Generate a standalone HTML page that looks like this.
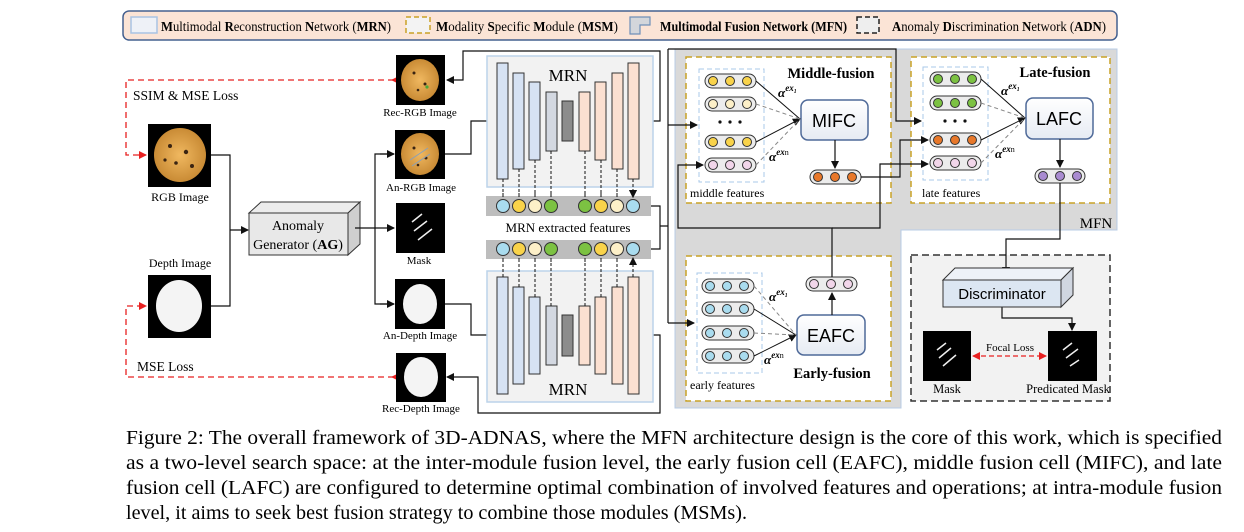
<!DOCTYPE html>
<html><head><meta charset="utf-8"><style>
body{margin:0;background:#fff;}
svg{display:block;font-family:"Liberation Serif",serif;}
</style></head><body>
<svg width="1244" height="532" viewBox="0 0 1244 532" xmlns="http://www.w3.org/2000/svg">
<defs>
<marker id="a" markerWidth="8" markerHeight="8" refX="7" refY="4" orient="auto" markerUnits="userSpaceOnUse"><path d="M0,0 L8,4 L0,8 Z" fill="#111"/></marker>
<marker id="r" markerWidth="8" markerHeight="8" refX="7" refY="4" orient="auto" markerUnits="userSpaceOnUse"><path d="M0,0 L8,4 L0,8 Z" fill="#e82020"/></marker>
<marker id="rs" markerWidth="8" markerHeight="8" refX="1" refY="4" orient="auto" markerUnits="userSpaceOnUse"><path d="M8,0 L0,4 L8,8 Z" fill="#e82020"/></marker>
<linearGradient id="g" x1="0" y1="0" x2="0" y2="1"><stop offset="0" stop-color="#fff"/><stop offset="1" stop-color="#e6ebf3"/></linearGradient>
<radialGradient id="ck"><stop offset="0" stop-color="#f0b860"/><stop offset="1" stop-color="#c98b35"/></radialGradient>
</defs>

<!-- legend -->
<rect x="123" y="11" width="994" height="29" rx="6" fill="#fbe4d6" stroke="#44608f" stroke-width="1.5"/>
<rect x="131" y="17" width="26" height="16" fill="#eef1f7" stroke="#a9c3e3" stroke-width="1.5"/>
<text x="161" y="31" font-size="13.5" textLength="230" lengthAdjust="spacingAndGlyphs"><tspan font-weight="bold">M</tspan>ultimodal <tspan font-weight="bold">R</tspan>econstruction <tspan font-weight="bold">N</tspan>etwork (<tspan font-weight="bold">MRN</tspan>)</text>
<rect x="406" y="17" width="24" height="16" fill="#f3f3f3" stroke="#c9a227" stroke-width="1.5" stroke-dasharray="5,3"/>
<text x="436" y="31" font-size="13.5" textLength="182" lengthAdjust="spacingAndGlyphs"><tspan font-weight="bold">M</tspan>odality <tspan font-weight="bold">S</tspan>pecific  <tspan font-weight="bold">M</tspan>odule (<tspan font-weight="bold">MSM</tspan>)</text>
<path d="M630,17 H650 V25 H640 V34 H630 Z" fill="#d3d6db" stroke="#6f8fb8" stroke-width="1.2"/>
<text x="660" y="31" font-size="13.5" textLength="187" lengthAdjust="spacingAndGlyphs" font-weight="bold">Multimodal Fusion Network (MFN)</text>
<rect x="857" y="17" width="22" height="16" fill="#eeeeee" stroke="#222" stroke-width="1.5" stroke-dasharray="5,3"/>
<text x="892" y="31" font-size="13.5" textLength="214" lengthAdjust="spacingAndGlyphs"><tspan font-weight="bold">A</tspan>nomaly <tspan font-weight="bold">D</tspan>iscrimination <tspan font-weight="bold">N</tspan>etwork (<tspan font-weight="bold">ADN</tspan>)</text>

<!-- MFN gray region -->
<path d="M675,49 H1117 V230 H901 V408 H675 Z" fill="#d9d9d9" stroke="#b8cce6" stroke-width="1"/>
<text x="1096" y="228" font-size="15" text-anchor="middle">MFN</text>

<!-- left images -->
<rect x="148" y="124" width="63" height="63" fill="#000"/>
<ellipse cx="180" cy="155" rx="26" ry="27" fill="url(#ck)"/>
<g fill="#3a2412"><circle cx="170" cy="146" r="2"/><circle cx="186" cy="152" r="2.2"/><circle cx="176" cy="163" r="1.8"/><circle cx="192" cy="166" r="2"/><circle cx="165" cy="160" r="1.6"/></g>
<text x="180" y="201" font-size="12" text-anchor="middle">RGB Image</text>
<text x="180" y="267" font-size="12" text-anchor="middle">Depth Image</text>
<rect x="148" y="275" width="63" height="63" fill="#000"/>
<ellipse cx="179" cy="306" rx="23" ry="26" fill="#f4f4f4"/>
<text x="133" y="100" font-size="13.5">SSIM &amp; MSE Loss</text>
<text x="137" y="371" font-size="13.5">MSE Loss</text>
<path d="M394,80 H126 V155 H146" fill="none" stroke="#e82020" stroke-width="1.3" stroke-dasharray="6,4" marker-end="url(#r)"/>
<path d="M394,377 H126 V306 H146" fill="none" stroke="#e82020" stroke-width="1.3" stroke-dasharray="6,4" marker-end="url(#r)"/>
<path d="M394,80 H392" stroke="#e82020" marker-end="url(#r)"/>
<path d="M394,377 H392" stroke="#e82020" marker-end="url(#r)"/>
<path d="M211,155 H230 V306 H211" fill="none" stroke="#111" stroke-width="1.2"/>
<path d="M230,230 H248" fill="none" stroke="#111" stroke-width="1.2" marker-end="url(#a)"/>

<!-- AG -->
<path d="M249,213 L261,202 H360 L348,213 Z" fill="#ececec" stroke="#333"/>
<path d="M348,213 L360,202 V244 L348,255 Z" fill="#cfcfcf" stroke="#333"/>
<rect x="249" y="213" width="99" height="42" fill="#e8e8e8" stroke="#333"/>
<text x="298" y="230" font-size="14" text-anchor="middle">Anomaly</text>
<text x="298" y="249" font-size="14" text-anchor="middle">Generator (<tspan font-weight="bold">AG</tspan>)</text>
<path d="M355,228 H394" fill="none" stroke="#111" stroke-width="1.2" marker-end="url(#a)"/>
<path d="M394,154 H375 V304 H394" fill="none" stroke="#111" stroke-width="1.2"/>
<path d="M380,154 H394" stroke="#111" stroke-width="1.2" marker-end="url(#a)"/>
<path d="M380,304 H394" stroke="#111" stroke-width="1.2" marker-end="url(#a)"/>

<!-- middle images -->
<g>
<rect x="396" y="55" width="49" height="50" fill="#000"/><ellipse cx="420" cy="80" rx="19" ry="21" fill="url(#ck)"/>
<g fill="#3a2412"><circle cx="414" cy="73" r="1.5"/><circle cx="425" cy="84" r="1.5"/><circle cx="418" cy="90" r="1.3"/></g><circle cx="427" cy="87" r="1.6" fill="#4aa83a"/>
<text x="420" y="116" font-size="11" text-anchor="middle">Rec-RGB Image</text>
<rect x="395" y="130" width="50" height="49" fill="#000"/><ellipse cx="420" cy="154" rx="19" ry="21" fill="url(#ck)"/>
<g fill="#3a2412"><circle cx="414" cy="148" r="1.5"/><circle cx="426" cy="158" r="1.5"/><circle cx="418" cy="165" r="1.3"/></g>
<path d="M410,160 L428,148 M412,166 L430,154" stroke="#8aa0b8" stroke-width="1"/>
<text x="421" y="191" font-size="11" text-anchor="middle">An-RGB Image</text>
<rect x="396" y="203" width="49" height="50" fill="#000"/>
<path d="M412,222 L422,214 M414,231 L427,221 M418,240 L432,229" stroke="#eee" stroke-width="1.5"/>
<text x="419" y="264" font-size="11" text-anchor="middle">Mask</text>
<rect x="395" y="279" width="50" height="50" fill="#000"/><ellipse cx="420" cy="304" rx="17" ry="20" fill="#f4f4f4"/>
<text x="420" y="339" font-size="11" text-anchor="middle">An-Depth Image</text>
<rect x="396" y="353" width="50" height="49" fill="#000"/><ellipse cx="421" cy="377" rx="17" ry="20" fill="#f4f4f4"/>
<text x="421" y="412" font-size="11" text-anchor="middle">Rec-Depth Image</text>
</g>

<path d="M445,154 H471 V121 H495" fill="none" stroke="#111" stroke-width="1.2" marker-end="url(#a)"/>
<path d="M445,304 H471 V335 H495" fill="none" stroke="#111" stroke-width="1.2" marker-end="url(#a)"/>
<path d="M638,121 H660 V51 H463 V80 H447" fill="none" stroke="#111" stroke-width="1.2" marker-end="url(#a)"/>
<path d="M638,335 H660 V413 H478 V377 H447" fill="none" stroke="#111" stroke-width="1.2" marker-end="url(#a)"/>

<!-- MRN boxes -->
<rect x="487" y="56" width="166" height="131" fill="#f2f2f2" stroke="#bcd3ea" stroke-width="1.5"/>
<rect x="487" y="271" width="166" height="131" fill="#f2f2f2" stroke="#bcd3ea" stroke-width="1.5"/>
<g stroke="#333" stroke-width="1">
<rect x="497" y="63" width="11" height="116" fill="#d6e2f3"/>
<rect x="513" y="73" width="11" height="96" fill="#d6e2f3"/>
<rect x="529" y="82" width="11" height="78" fill="#d6e2f3"/>
<rect x="546" y="92" width="11" height="59" fill="#d3d8e1"/>
<rect x="562" y="101" width="11" height="40" fill="#8c8c8c"/>
<rect x="579" y="92" width="11" height="59" fill="#fbe0d1"/>
<rect x="595" y="82" width="11" height="78" fill="#fbe0d1"/>
<rect x="612" y="73" width="11" height="96" fill="#fbe0d1"/>
<rect x="628" y="63" width="11" height="116" fill="#fbe0d1"/>
<rect x="497" y="277" width="11" height="117" fill="#d6e2f3"/>
<rect x="513" y="287" width="11" height="97" fill="#d6e2f3"/>
<rect x="529" y="297" width="11" height="77" fill="#d6e2f3"/>
<rect x="546" y="306" width="11" height="59" fill="#d3d8e1"/>
<rect x="562" y="315" width="11" height="41" fill="#8c8c8c"/>
<rect x="579" y="306" width="11" height="59" fill="#fbe0d1"/>
<rect x="595" y="297" width="11" height="77" fill="#fbe0d1"/>
<rect x="612" y="287" width="11" height="97" fill="#fbe0d1"/>
<rect x="628" y="277" width="11" height="117" fill="#fbe0d1"/>
</g>
<text x="568" y="81" font-size="17" text-anchor="middle">MRN</text>
<text x="568" y="395" font-size="17" text-anchor="middle">MRN</text>
<rect x="486" y="196" width="165" height="20" fill="#bdbdbd"/>
<rect x="486" y="240" width="165" height="19" fill="#bdbdbd"/>
<text x="568" y="232" font-size="13" text-anchor="middle">MRN extracted features</text>
<g stroke="#111" stroke-width="1" stroke-dasharray="3,2">
<path d="M503,179 V197 M519,169 V197 M535,160 V197 M551,151 V197 M585,151 V197 M601,160 V197 M617,169 V197 M633,179 V197" marker-end="url(#a)"/>
<path d="M503,277 V258 M519,287 V258 M535,297 V258 M551,306 V258 M585,306 V258 M601,297 V258 M617,287 V258 M633,277 V258"/>
</g>
<g stroke="#111" stroke-width="1" fill="none">
<path d="M503,262 V258 M519,262 V258 M535,262 V258 M551,262 V258 M585,262 V258 M601,262 V258 M617,262 V258 M633,262 V258" marker-end="url(#a)"/>
<path d="M503,193 V197 M519,193 V197 M535,193 V197 M551,193 V197 M585,193 V197 M601,193 V197 M617,193 V197 M633,193 V197" marker-end="url(#a)"/>
</g>
<g stroke="#333" stroke-width="1">
<circle cx="503" cy="206" r="6.5" fill="#a9dcef"/><circle cx="519" cy="206" r="6.5" fill="#f9d34a"/><circle cx="535" cy="206" r="6.5" fill="#fdf0c8"/><circle cx="551" cy="206" r="6.5" fill="#7cc242"/>
<circle cx="585" cy="206" r="6.5" fill="#7cc242"/><circle cx="601" cy="206" r="6.5" fill="#f9d34a"/><circle cx="617" cy="206" r="6.5" fill="#fdf0c8"/><circle cx="633" cy="206" r="6.5" fill="#a9dcef"/>
<circle cx="503" cy="249" r="6.5" fill="#a9dcef"/><circle cx="519" cy="249" r="6.5" fill="#f9d34a"/><circle cx="535" cy="249" r="6.5" fill="#fdf0c8"/><circle cx="551" cy="249" r="6.5" fill="#7cc242"/>
<circle cx="585" cy="249" r="6.5" fill="#7cc242"/><circle cx="601" cy="249" r="6.5" fill="#f9d34a"/><circle cx="617" cy="249" r="6.5" fill="#fdf0c8"/><circle cx="633" cy="249" r="6.5" fill="#a9dcef"/>
</g>
<path d="M651,206 H660 V249 H651 M660,226 H668" fill="none" stroke="#111" stroke-width="1.2"/>
<path d="M668,49 V323" fill="none" stroke="#111" stroke-width="1.2"/>

<!-- fusion boxes -->
<rect x="686" y="57" width="205" height="146" fill="#fff" stroke="#c9a227" stroke-width="1.5" stroke-dasharray="6,4"/>
<rect x="911" y="57" width="199" height="146" fill="#fff" stroke="#c9a227" stroke-width="1.5" stroke-dasharray="6,4"/>
<rect x="686" y="256" width="205" height="145" fill="#fff" stroke="#c9a227" stroke-width="1.5" stroke-dasharray="6,4"/>
<rect x="911" y="255" width="199" height="146" fill="#f2f2f2" stroke="#333" stroke-width="1.5" stroke-dasharray="7,4"/>
<rect x="699" y="69" width="65" height="113" fill="none" stroke="#a9c8e8" stroke-dasharray="5,3"/>
<rect x="923" y="67" width="65" height="113" fill="none" stroke="#a9c8e8" stroke-dasharray="5,3"/>
<rect x="697" y="273" width="65" height="100" fill="none" stroke="#a9c8e8" stroke-dasharray="5,3"/>

<g stroke="#333" stroke-width="1">
<!-- middle rows -->
<rect x="705" y="74" width="51" height="14" rx="7" fill="#ececec"/><circle cx="713" cy="81" r="4.5" fill="#f9d34a"/><circle cx="730" cy="81" r="4.5" fill="#f9d34a"/><circle cx="747" cy="81" r="4.5" fill="#f9d34a"/>
<rect x="705" y="97" width="51" height="14" rx="7" fill="#ececec"/><circle cx="713" cy="104" r="4.5" fill="#fdf0c8"/><circle cx="730" cy="104" r="4.5" fill="#fdf0c8"/><circle cx="747" cy="104" r="4.5" fill="#fdf0c8"/>
<rect x="705" y="135" width="51" height="14" rx="7" fill="#ececec"/><circle cx="713" cy="142" r="4.5" fill="#f9d34a"/><circle cx="730" cy="142" r="4.5" fill="#f9d34a"/><circle cx="747" cy="142" r="4.5" fill="#f9d34a"/>
<rect x="705" y="158" width="51" height="14" rx="7" fill="#ececec"/><circle cx="713" cy="165" r="4.5" fill="#f2d6ea"/><circle cx="730" cy="165" r="4.5" fill="#f2d6ea"/><circle cx="747" cy="165" r="4.5" fill="#f2d6ea"/>
<!-- late rows -->
<rect x="930" y="72" width="51" height="14" rx="7" fill="#ececec"/><circle cx="938" cy="79" r="4.5" fill="#7cc242"/><circle cx="955" cy="79" r="4.5" fill="#7cc242"/><circle cx="972" cy="79" r="4.5" fill="#7cc242"/>
<rect x="930" y="96" width="51" height="14" rx="7" fill="#ececec"/><circle cx="938" cy="103" r="4.5" fill="#7cc242"/><circle cx="955" cy="103" r="4.5" fill="#7cc242"/><circle cx="972" cy="103" r="4.5" fill="#7cc242"/>
<rect x="930" y="133" width="51" height="14" rx="7" fill="#ececec"/><circle cx="938" cy="140" r="4.5" fill="#e8782a"/><circle cx="955" cy="140" r="4.5" fill="#e8782a"/><circle cx="972" cy="140" r="4.5" fill="#e8782a"/>
<rect x="930" y="156" width="51" height="14" rx="7" fill="#ececec"/><circle cx="938" cy="163" r="4.5" fill="#f2d6ea"/><circle cx="955" cy="163" r="4.5" fill="#f2d6ea"/><circle cx="972" cy="163" r="4.5" fill="#f2d6ea"/>
<!-- early rows -->
<rect x="702" y="279" width="52" height="14" rx="7" fill="#ececec"/><circle cx="710" cy="286" r="4.5" fill="#a9dcef"/><circle cx="727" cy="286" r="4.5" fill="#a9dcef"/><circle cx="744" cy="286" r="4.5" fill="#a9dcef"/>
<rect x="702" y="302" width="52" height="14" rx="7" fill="#ececec"/><circle cx="710" cy="309" r="4.5" fill="#a9dcef"/><circle cx="727" cy="309" r="4.5" fill="#a9dcef"/><circle cx="744" cy="309" r="4.5" fill="#a9dcef"/>
<rect x="702" y="326" width="52" height="14" rx="7" fill="#ececec"/><circle cx="710" cy="333" r="4.5" fill="#a9dcef"/><circle cx="727" cy="333" r="4.5" fill="#a9dcef"/><circle cx="744" cy="333" r="4.5" fill="#a9dcef"/>
<rect x="702" y="349" width="52" height="14" rx="7" fill="#ececec"/><circle cx="710" cy="356" r="4.5" fill="#a9dcef"/><circle cx="727" cy="356" r="4.5" fill="#a9dcef"/><circle cx="744" cy="356" r="4.5" fill="#a9dcef"/>
<!-- outputs -->
<rect x="810" y="170" width="51" height="14" rx="7" fill="#ececec"/><circle cx="818" cy="177" r="4.5" fill="#e8782a"/><circle cx="835" cy="177" r="4.5" fill="#e8782a"/><circle cx="852" cy="177" r="4.5" fill="#e8782a"/>
<rect x="1035" y="169" width="50" height="14" rx="7" fill="#ececec"/><circle cx="1043" cy="176" r="4.5" fill="#a98bd0"/><circle cx="1060" cy="176" r="4.5" fill="#a98bd0"/><circle cx="1077" cy="176" r="4.5" fill="#a98bd0"/>
<rect x="806" y="277" width="51" height="14" rx="7" fill="#ececec"/><circle cx="814" cy="284" r="4.5" fill="#f2d6ea"/><circle cx="831" cy="284" r="4.5" fill="#f2d6ea"/><circle cx="848" cy="284" r="4.5" fill="#f2d6ea"/>
</g>
<g fill="#111"><circle cx="720" cy="122" r="1.6"/><circle cx="730" cy="122" r="1.6"/><circle cx="740" cy="122" r="1.6"/><circle cx="945" cy="121" r="1.6"/><circle cx="955" cy="121" r="1.6"/><circle cx="965" cy="121" r="1.6"/></g>

<!-- cells -->
<rect x="801" y="100" width="67" height="40" rx="7" fill="url(#g)" stroke="#4f6a99" stroke-width="1.5"/>
<text x="834" y="127" font-size="18" text-anchor="middle" font-family="Liberation Sans, sans-serif">MIFC</text>
<rect x="1026" y="98" width="67" height="41" rx="7" fill="url(#g)" stroke="#4f6a99" stroke-width="1.5"/>
<text x="1059" y="125" font-size="18" text-anchor="middle" font-family="Liberation Sans, sans-serif">LAFC</text>
<rect x="797" y="315" width="68" height="40" rx="7" fill="url(#g)" stroke="#4f6a99" stroke-width="1.5"/>
<text x="831" y="342" font-size="18" text-anchor="middle" font-family="Liberation Sans, sans-serif">EAFC</text>

<text x="831" y="78" font-size="14.5" font-weight="bold" text-anchor="middle">Middle-fusion</text>
<text x="1055" y="77" font-size="14.5" font-weight="bold" text-anchor="middle">Late-fusion</text>
<text x="832" y="378" font-size="14.5" font-weight="bold" text-anchor="middle">Early-fusion</text>
<text x="690" y="197" font-size="12">middle features</text>
<text x="922" y="197" font-size="12">late features</text>
<text x="690" y="389" font-size="12">early features</text>
<g font-size="13" font-weight="bold" font-style="italic">
<text x="778" y="97">α<tspan font-size="9" dy="-6">ex₁</tspan></text>
<text x="769" y="161">α<tspan font-size="9" dy="-6">ex</tspan><tspan font-size="8" font-style="normal" font-weight="normal">n</tspan></text>
<text x="1001" y="95">α<tspan font-size="9" dy="-6">ex₁</tspan></text>
<text x="995" y="158">α<tspan font-size="9" dy="-6">ex</tspan><tspan font-size="8" font-style="normal" font-weight="normal">n</tspan></text>
<text x="769" y="301">α<tspan font-size="9" dy="-6">ex₁</tspan></text>
<text x="764" y="364">α<tspan font-size="9" dy="-6">ex</tspan><tspan font-size="8" font-style="normal" font-weight="normal">n</tspan></text>
</g>

<!-- cell inputs -->
<g fill="none" stroke-width="1">
<path d="M756,81 L800,119 M756,142 L800,119" stroke="#111" marker-end="url(#a)"/>
<path d="M756,104 L800,119 M756,165 L800,119" stroke="#888" stroke-dasharray="4,3"/>
<path d="M981,79 L1025,118 M981,140 L1025,118" stroke="#111" marker-end="url(#a)"/>
<path d="M981,103 L1025,118 M981,163 L1025,118" stroke="#888" stroke-dasharray="4,3"/>
<path d="M754,309 L796,335 M754,356 L796,335" stroke="#111" marker-end="url(#a)"/>
<path d="M754,286 L796,335 M754,333 L796,335" stroke="#888" stroke-dasharray="4,3"/>
</g>
<g fill="none" stroke="#111" stroke-width="1.2">
<path d="M835,140 V168" marker-end="url(#a)"/>
<path d="M1060,139 V167" marker-end="url(#a)"/>
<path d="M832,315 V293" marker-end="url(#a)"/>
<path d="M668,125 H697" marker-end="url(#a)"/>
<path d="M668,323 H694" marker-end="url(#a)"/>
<path d="M668,49 H896 V121 H921" marker-end="url(#a)"/>
<path d="M832,277 V228 H678 V165 H703" marker-end="url(#a)"/>
<path d="M832,228 H880 V164 H928" marker-end="url(#a)"/>
<path d="M861,177 H900 V140 H928" marker-end="url(#a)"/>
<path d="M1060,183 V239 H1006 V274" marker-end="url(#a)"/>
<path d="M1002,307 V318 H1072 V330" marker-end="url(#a)"/>
</g>

<!-- ADN -->
<path d="M943,280 L955,268 H1073 L1061,280 Z" fill="#eef2f8" stroke="#333"/>
<path d="M1061,280 L1073,268 V295 L1061,307 Z" fill="#d0d6e0" stroke="#333"/>
<rect x="943" y="280" width="118" height="27" fill="#dce6f2" stroke="#333"/>
<text x="1002" y="299" font-size="15" text-anchor="middle" font-family="Liberation Sans, sans-serif">Discriminator</text>
<rect x="923" y="331" width="48" height="50" fill="#000"/>
<path d="M937,350 L946,343 M939,358 L951,348 M943,366 L956,355" stroke="#eee" stroke-width="1.5"/>
<rect x="1048" y="331" width="49" height="50" fill="#000"/>
<path d="M1063,350 L1072,343 M1066,358 L1078,349 M1070,366 L1079,360" stroke="#eee" stroke-width="1.5"/>
<path d="M973,356 H1046" stroke="#e82020" stroke-width="1.3" stroke-dasharray="5,3" marker-start="url(#rs)" marker-end="url(#r)"/>
<text x="1010" y="351" font-size="11" text-anchor="middle">Focal Loss</text>
<text x="947" y="393" font-size="12.5" text-anchor="middle">Mask</text>
<text x="1068" y="393" font-size="12.5" text-anchor="middle">Predicated Mask</text>

<!-- caption -->
<g font-size="19.5">
<text x="126" y="444" textLength="1096" lengthAdjust="spacingAndGlyphs">Figure 2: The overall framework of 3D-ADNAS, where the MFN architecture design is the core of this work, which is specified</text>
<text x="126" y="469" textLength="1096" lengthAdjust="spacingAndGlyphs">as a two-level search space: at the inter-module fusion level, the early fusion cell (EAFC), middle fusion cell (MIFC), and late</text>
<text x="126" y="494" textLength="1096" lengthAdjust="spacingAndGlyphs">fusion cell (LAFC) are configured to determine optimal combination of involved features and operations; at intra-module fusion</text>
<text x="126" y="519" textLength="621" lengthAdjust="spacingAndGlyphs">level, it aims to seek best fusion strategy to combine those modules (MSMs).</text>
</g>
</svg>
</body></html>
